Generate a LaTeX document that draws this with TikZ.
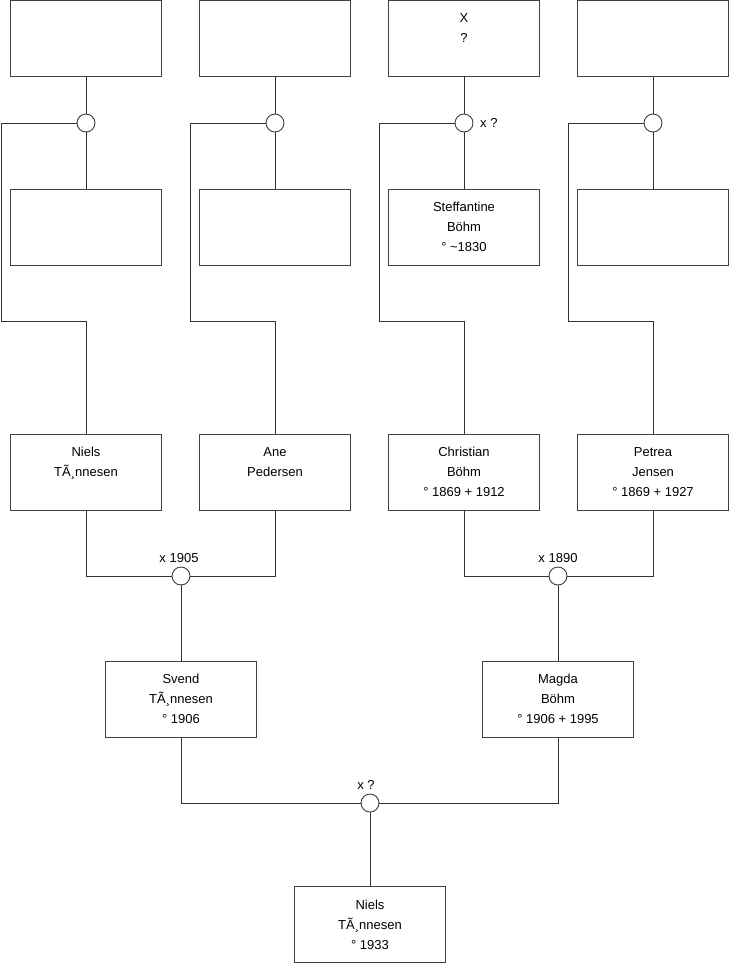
\documentclass[tikz,border=0pt]{standalone}
\usepackage{fontspec}
\setmainfont{Liberation Sans}
\begin{document}
\begin{tikzpicture}[x=1pt,y=-1pt,
  pbox/.style={draw=black!75,line width=0.9pt,fill=white,minimum width=151pt,minimum height=76pt,inner sep=0pt,align=center,font=\fontsize{13}{20}\selectfont},
  famc/.style={circle,draw=black!75,line width=0.9pt,fill=white,minimum size=18pt,inner sep=0pt},
  link/.style={draw=black!80,line width=0.9pt},
  lbl/.style={font=\fontsize{13}{15}\selectfont,inner sep=0pt}]
\useasboundingbox[fill=white] (0,0) rectangle (740,975);
% row 1
\node[pbox] (t1) at (86,38.5) {};
\node[pbox] (t2) at (275,38.5) {};
\node[pbox] (t3) at (464,38.5) {X\\?\\~};
\node[pbox] (t4) at (653,38.5) {};
% circles row 1
\node[famc] (c1) at (86,123) {};
\node[famc] (c2) at (275,123) {};
\node[famc] (c3) at (464,123) {};
\node[famc] (c4) at (653,123) {};
\node[lbl,anchor=west] (l3) at (480,123) {x ?};
% row 2
\node[pbox] (s1) at (86,227) {};
\node[pbox] (s2) at (275,227) {};
\node[pbox] (s3) at (464,227) {Steffantine\\Böhm\\° \textasciitilde1830};
\node[pbox] (s4) at (653,227) {};
% row 3
\node[pbox] (p1) at (86,472) {Niels\\TÃ¸nnesen\\~};
\node[pbox] (p2) at (275,472) {Ane\\Pedersen\\~};
\node[pbox] (p3) at (464,472) {Christian\\Böhm\\° 1869 + 1912};
\node[pbox] (p4) at (653,472) {Petrea\\Jensen\\° 1869 + 1927};
% circles row 3
\node[famc] (c5) at (181,576) {};
\node[famc] (c6) at (558,576) {};
\node[lbl] (l5) at (179,558) {x 1905};
\node[lbl] (l6) at (558,558) {x 1890};
% row 4
\node[pbox] (g1) at (181,699) {Svend\\TÃ¸nnesen\\° 1906};
\node[pbox] (g2) at (558,699) {Magda\\Böhm\\° 1906 + 1995};
\node[famc] (c7) at (370,803) {};
\node[lbl] (l7) at (366,785) {x ?};
% row 5
\node[pbox] (r1) at (370,924.5) {Niels\\TÃ¸nnesen\\° 1933};
% bend coordinates
\coordinate (b1) at (1,321);
\coordinate (b2) at (190,321);
\coordinate (b3) at (379,321);
\coordinate (b4) at (568,321);
% connectors
\foreach \t/\c/\s/\b/\p in {t1/c1/s1/b1/p1,t2/c2/s2/b2/p2,t3/c3/s3/b3/p3,t4/c4/s4/b4/p4}{
  \draw[link] (\t.south) -- (\c.north);
  \draw[link] (\c.south) -- (\s.north);
  \draw[link] (\c.west) -| (\b) -| (\p.north);
}
\draw[link] (p1.south) |- (c5.west);
\draw[link] (p2.south) |- (c5.east);
\draw[link] (p3.south) |- (c6.west);
\draw[link] (p4.south) |- (c6.east);
\draw[link] (c5.south) -- (g1.north);
\draw[link] (c6.south) -- (g2.north);
\draw[link] (g1.south) |- (c7.west);
\draw[link] (g2.south) |- (c7.east);
\draw[link] (c7.south) -- (r1.north);
\end{tikzpicture}
\end{document}
